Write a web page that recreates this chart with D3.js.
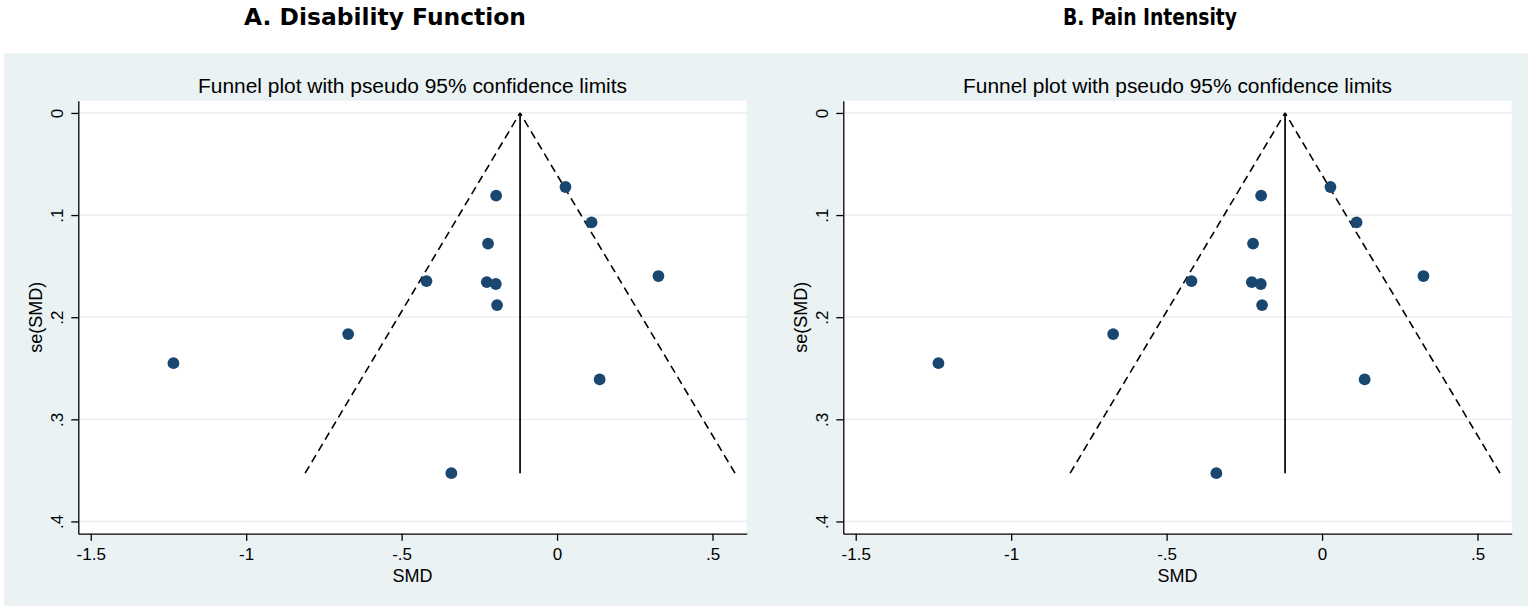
<!DOCTYPE html>
<html>
<head>
<meta charset="utf-8">
<script src="https://cdn.jsdelivr.net/npm/d3@7"></script>
<style>
  body { margin: 0; background: #ffffff; }
  svg { display: block; }
  text { font-family: "Liberation Sans", Arial, sans-serif; fill: #000; }
</style>
</head>
<body>
<svg id="chart"></svg>
<script>
// Panel titles
const panelTitles = ["A. Disability Function", "B. Pain Intensity"];
const subTitle = "Funnel plot with pseudo 95% confidence limits";

// Study estimates (SMD, standard error)
const disabilitySmd = [-1.234, -0.672, -0.420, -0.340, -0.196, 0.027, 0.111, -0.222, -0.226, -0.197, -0.193, 0.326, 0.137];
const disabilitySe  = [0.245, 0.2165, 0.1646, 0.3527, 0.0809, 0.0725, 0.1071, 0.1279, 0.1656, 0.1675, 0.1881, 0.1597, 0.2609];
const painSmd = [-1.234, -0.672, -0.420, -0.340, -0.196, 0.027, 0.111, -0.222, -0.226, -0.197, -0.193, 0.326, 0.137];
const painSe  = [0.245, 0.2165, 0.1646, 0.3527, 0.0809, 0.0725, 0.1071, 0.1279, 0.1656, 0.1675, 0.1881, 0.1597, 0.2609];

// Pooled estimate and the largest standard error (funnel limits)
const pooledSmd = [-0.119, -0.119];
const maxSe = [0.3527, 0.3527];

// Axis ticks
const xTicks = [-1.5, -1, -0.5, 0, 0.5];
const yTicks = [0, 0.1, 0.2, 0.3, 0.4];
const xExtent = [-1.54, 0.61];
const yExtent = [-0.012, 0.412];

const config = {
    width: 1535,
    height: 612,
    panelOffset: 765,
    panelBg: [
        { x: 4, width: 762 },
        { x: 1, width: 762 },
    ],
    bgTop: 53.3,
    bgHeight: 552.4,
    titleCenter: 385,
    plot: { left: 78.3, top: 100.7, width: 668.4, height: 433 },
    bgColor: "#eaf2f3",
    gridColor: "#e4edef",
    dotColor: "#1a476f",
};

const svg = d3.select("#chart")
    .attr("width", config.width)
    .attr("height", config.height);

const panels = [
    { title: panelTitles[0], titleWidth: 282, smd: disabilitySmd, se: disabilitySe, pooled: pooledSmd[0], seMax: maxSe[0] },
    { title: panelTitles[1], titleWidth: 174, smd: painSmd, se: painSe, pooled: pooledSmd[1], seMax: maxSe[1] },
];

const fmt = (d) => d === 0 ? "0" : String(d).replace("0.", ".");

panels.forEach((p, i) => {
    const g = svg.append("g")
        .attr("transform", `translate(${i * config.panelOffset},0)`);

    // grey-blue background of the graph region
    g.append("rect")
        .attr("x", config.panelBg[i].x)
        .attr("y", config.bgTop)
        .attr("width", config.panelBg[i].width)
        .attr("height", config.bgHeight)
        .attr("fill", config.bgColor);

    // Panel title
    g.append("text")
        .attr("x", config.titleCenter)
        .attr("y", 25)
        .attr("text-anchor", "middle")
        .style("font-family", "'DejaVu Sans', sans-serif")
        .style("font-weight", "bold")
        .style("font-size", "23px")
        .attr("textLength", p.titleWidth)
        .attr("lengthAdjust", "spacingAndGlyphs")
        .text(p.title);

    const chart = g.append("g")
        .attr("transform", `translate(${config.plot.left},${config.plot.top})`);

    const w = config.plot.width;
    const h = config.plot.height;

    const x = d3.scaleLinear().domain(xExtent).range([0, w]);
    const y = d3.scaleLinear().domain(yExtent).range([0, h]);

    // white plot region
    chart.append("rect")
        .attr("width", w)
        .attr("height", h)
        .attr("fill", "#ffffff");

    // Subtitle
    chart.append("text")
        .attr("x", w / 2)
        .attr("y", -7.5)
        .attr("text-anchor", "middle")
        .style("font-size", "20px")
        .attr("textLength", 429)
        .attr("lengthAdjust", "spacingAndGlyphs")
        .text(subTitle);

    // horizontal grid lines
    chart.selectAll(".grid")
        .data(yTicks)
        .join("line")
        .attr("class", "grid")
        .attr("x1", 0)
        .attr("x2", w)
        .attr("y1", (d) => y(d))
        .attr("y2", (d) => y(d))
        .attr("stroke", config.gridColor)
        .attr("stroke-width", 1.3);

    // Funnel: pseudo 95% limits
    const funnel = [
        [[p.pooled - 1.96 * p.seMax, p.seMax], [p.pooled, 0]],
        [[p.pooled + 1.96 * p.seMax, p.seMax], [p.pooled, 0]],
    ];
    const line = d3.line().x((d) => x(d[0])).y((d) => y(d[1]));

    chart.selectAll(".limit")
        .data(funnel)
        .join("path")
        .attr("class", "limit")
        .attr("d", line)
        .attr("fill", "none")
        .attr("stroke", "#000")
        .attr("stroke-width", 1.6)
        .attr("stroke-dasharray", "8,5");

    chart.append("path")
        .attr("d", line([[p.pooled, p.seMax], [p.pooled, 0]]))
        .attr("fill", "none")
        .attr("stroke", "#000")
        .attr("stroke-width", 1.7);

    // study points
    const data = p.smd.map((v, k) => ({ smd: v, se: p.se[k] }));
    chart.selectAll(".dot")
        .data(data)
        .join("circle")
        .attr("class", "dot")
        .attr("cx", (d) => x(d.smd))
        .attr("cy", (d) => y(d.se))
        .attr("r", 5.9)
        .attr("fill", config.dotColor);

    // Axes
    const xAxis = d3.axisBottom(x).tickValues(xTicks).tickFormat(fmt)
        .tickSize(7).tickSizeOuter(0).tickPadding(7);
    const yAxis = d3.axisLeft(y).tickValues(yTicks).tickFormat(fmt)
        .tickSize(7).tickSizeOuter(0);

    const xAxisG = chart.append("g")
        .attr("transform", `translate(0,${h})`)
        .call(xAxis);
    const yAxisG = chart.append("g").call(yAxis);

    [xAxisG, yAxisG].forEach((a) => {
        a.select(".domain").attr("stroke", "#000").attr("stroke-width", 1.3);
        a.selectAll(".tick line").attr("stroke", "#000").attr("stroke-width", 1.3);
        a.selectAll("text")
            .style("font-family", "'Liberation Sans', Arial, sans-serif")
            .style("font-size", "17px")
            .attr("fill", "#000");
    });

    // rotated y tick labels, as Stata draws them
    yAxisG.selectAll(".tick text")
        .attr("transform", "rotate(-90)")
        .attr("x", 0)
        .attr("y", -15)
        .attr("dy", 0)
        .attr("text-anchor", "middle");

    // Axis titles
    chart.append("text")
        .attr("x", w / 2)
        .attr("y", h + 48)
        .attr("text-anchor", "middle")
        .style("font-size", "18px")
        .text("SMD");

    chart.append("text")
        .attr("transform", `translate(-36,${h / 2}) rotate(-90)`)
        .attr("text-anchor", "middle")
        .style("font-size", "18px")
        .text("se(SMD)");
});
</script>
</body>
</html>
